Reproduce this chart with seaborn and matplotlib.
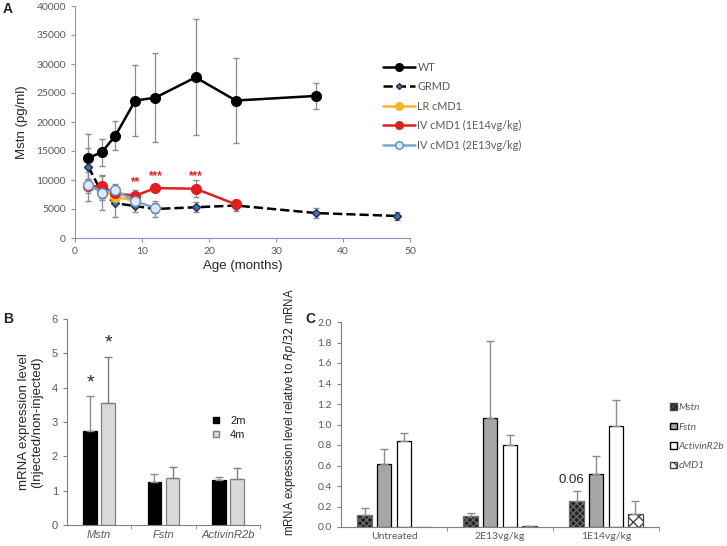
import matplotlib
matplotlib.use("Agg")
import matplotlib.pyplot as plt
from matplotlib.lines import Line2D
from matplotlib.patches import Patch
import numpy as np
import pandas as pd
import seaborn as sns

# ---- panel A: serum Mstn over age ----
wt_age = [2, 4, 6, 9, 12, 18, 24, 36]
wt_mstn = [13800, 14800, 17600, 23700, 24200, 27700, 23700, 24500]
wt_err = [4200, 2300, 2500, 6100, 7700, 10000, 7300, 2300]

grmd_age = [2, 4, 6, 9, 12, 18, 24, 36, 48]
grmd_mstn = [12300, 7800, 6000, 5500, 5000, 5300, 5600, 4300, 3800]
grmd_err = [3200, 2900, 2400, 1000, 1300, 900, 1000, 800, 700]

lr_age = [2, 4, 6, 9]
lr_mstn = [9000, 8300, 7100, 6400]
lr_err = [1200, 1400, 1100, 900]

iv14_age = [2, 4, 6, 9, 12, 18, 24]
iv14_mstn = [8900, 8900, 7700, 7300, 8600, 8500, 5800]
iv14_err = [2500, 2000, 1300, 1000, 500, 1500, 700]

iv13_age = [2, 4, 6, 9, 12]
iv13_mstn = [9200, 7800, 8300, 6300, 5200]
iv13_err = [1000, 1200, 1000, 1000, 900]

stars_age = [9, 12, 18]
stars_y = [9700, 10700, 10700]
stars_txt = ["**", "***", "***"]

# ---- panel B: injected / non-injected ----
b_genes = ["Mstn", "Fstn", "ActivinR2b"]
b_2m = [2.75, 1.25, 1.32]
b_2m_err = [1.00, 0.23, 0.08]
b_4m = [3.55, 1.37, 1.33]
b_4m_err = [1.35, 0.31, 0.32]

# ---- panel C: relative to Rpl32 ----
c_groups = ["Untreated", "2E13vg/kg", "1E14vg/kg"]
c_mstn = [0.12, 0.11, 0.25]
c_mstn_err = [0.07, 0.03, 0.10]
c_fstn = [0.61, 1.06, 0.52]
c_fstn_err = [0.15, 0.75, 0.17]
c_actr = [0.84, 0.80, 0.99]
c_actr_err = [0.08, 0.10, 0.25]
c_cmd1 = [0.0, 0.005, 0.13]
c_cmd1_err = [0.0, 0.005, 0.12]

sns.set_style("ticks")
plt.rcParams["font.family"] = ["Liberation Sans", "DejaVu Sans"]

fig = plt.figure(figsize=(7.27, 5.46), dpi=100)
W, H = 727, 546


def px_axes(left, top, right, bottom):
    return fig.add_axes([left / W, 1 - bottom / H, (right - left) / W, (bottom - top) / H])


tick_grey = "#595959"
err_grey = "#8c8c8c"

# ================= A =================
axA = px_axes(75, 6, 410, 238)
series = [
    (wt_age, wt_mstn, wt_err, "WT", dict(color="black", ls="-", marker="o", ms=7, mfc="black", mec="black")),
    (grmd_age, grmd_mstn, grmd_err, "GRMD", dict(color="black", ls="--", marker="D", ms=4.5, mfc="#4a6fb0", mec="#1f2f4f")),
    (lr_age, lr_mstn, lr_err, "LR cMD1", dict(color="#f0b623", ls="-", marker="o", ms=7, mfc="#f0b623", mec="#f0b623")),
    (iv14_age, iv14_mstn, iv14_err, "IV cMD1 (1E14vg/kg)", dict(color="#e0201f", ls="-", marker="o", ms=7, mfc="#e0201f", mec="#e0201f")),
    (iv13_age, iv13_mstn, iv13_err, "IV cMD1 (2E13vg/kg)", dict(color="#79a6d2", ls="-", marker="o", ms=7, mfc="#dfe9f5", mec="#5b8bc4")),
]
handles = []
for age, val, err, name, st in series:
    axA.errorbar(age, val, yerr=err, fmt="none", ecolor=err_grey, elinewidth=0.9, capsize=2.5, zorder=1)
for age, val, err, name, st in series:
    sns.lineplot(x=age, y=val, ax=axA, color=st["color"], linestyle=st["ls"], lw=1.8,
                 marker=st["marker"], markersize=st["ms"], markerfacecolor=st["mfc"],
                 markeredgecolor=st["mec"], markeredgewidth=1, zorder=3)
    handles.append(Line2D([], [], color=st["color"], ls=st["ls"], lw=1.8, marker=st["marker"],
                          ms=st["ms"] - 1.5, mfc=st["mfc"], mec=st["mec"], label=name))
for x, y, t in zip(stars_age, stars_y, stars_txt):
    axA.text(x, y, t, color="#e0201f", ha="center", va="center", fontsize=8.5, fontweight="bold")

axA.set_xlim(0, 50)
axA.set_ylim(0, 40000)
axA.set_xticks(range(0, 51, 10))
axA.set_yticks(range(0, 40001, 5000))
axA.set_xlabel("Age (months)", fontsize=9.5, labelpad=3)
axA.set_ylabel("Mstn (pg/ml)", fontsize=9.5, labelpad=6)
for s in ["top", "right"]:
    axA.spines[s].set_visible(False)
for s in ["left", "bottom"]:
    axA.spines[s].set_color("#7f97c7")
axA.tick_params(colors="#7f97c7", labelcolor=tick_grey, labelsize=7.5, length=3)
for lab in axA.get_xticklabels() + axA.get_yticklabels():
    lab.set_family(["Lato", "DejaVu Sans"])
leg = fig.legend(handles=handles, loc="upper left", bbox_to_anchor=(373 / W, 1 - 52 / H),
                 frameon=False, fontsize=7.8, handlelength=3.0, labelspacing=0.78, handletextpad=0.2)
for t in leg.get_texts():
    t.set_color(tick_grey)
    t.set_family(["Lato", "DejaVu Sans"])
fig.text(3 / W, 1 - 2 / H, "A", fontsize=10, fontweight="bold", va="top")

# ================= B =================
axB = px_axes(67, 319, 260, 525)
dfB = pd.DataFrame({
    "gene": b_genes * 2,
    "age": ["2m"] * 3 + ["4m"] * 3,
    "value": b_2m + b_4m,
})
sns.barplot(data=dfB, x="gene", y="value", hue="age", palette=["black", "#d9d9d9"],
            width=0.56, gap=0.25, errorbar=None, ax=axB, legend=False)
b_err = [b_2m_err, b_4m_err]
b_edges = ["black", "#7f7f7f"]
b_conts = list(axB.containers)
for i, cont in enumerate(b_conts):
    for j, (bar, e) in enumerate(zip(cont, b_err[i])):
        bar.set_edgecolor(b_edges[i])
        bar.set_linewidth(0.9)
        x = bar.get_x() + bar.get_width() / 2
        axB.errorbar(x, bar.get_height(), yerr=[[0], [e]], fmt="none",
                     ecolor=err_grey if i == 0 else "#7f7f7f", elinewidth=1, capsize=3)
        if b_genes[j] == "Mstn":
            axB.text(x, bar.get_height() + e + 0.15, "*", ha="center", va="bottom", fontsize=14)
axB.set_xlim(-0.5, 2.5)
axB.set_ylim(0, 6)
axB.set_yticks(range(0, 7))
axB.set_xlabel("")
axB.set_ylabel("mRNA expression level\n(Injected/non-injected)", fontsize=9.5, labelpad=6)
axB.set_xticks([0.5, 1.5, 2.5], minor=True)
axB.tick_params(axis="x", which="major", length=0)
axB.tick_params(axis="x", which="minor", length=3, color="#7f7f7f")
axB.tick_params(axis="y", length=3, color="#7f7f7f")
axB.tick_params(labelcolor=tick_grey, labelsize=8)
for lab in axB.get_xticklabels():
    lab.set_style("italic")
for s in ["top", "right"]:
    axB.spines[s].set_visible(False)
for s in ["left", "bottom"]:
    axB.spines[s].set_color("#7f7f7f")
hB = [Patch(facecolor="black", edgecolor="black", label="2m"),
      Patch(facecolor="#d9d9d9", edgecolor="#7f7f7f", label="4m")]
axB.legend(handles=hB, loc="upper left", bbox_to_anchor=(203 / W, 1 - 406 / H),
           bbox_transform=fig.transFigure, frameon=False, fontsize=8,
           handlelength=0.55, handleheight=0.55, handletextpad=1.0, labelspacing=0.35)
fig.text(3 / W, 1 - 312 / H, "B", fontsize=10, fontweight="bold", va="top")

# ================= C =================
axC = px_axes(341, 322, 659, 527)
c_names = ["Mstn", "Fstn", "ActivinR2b", "cMD1"]
c_vals = [c_mstn, c_fstn, c_actr, c_cmd1]
c_errs = [c_mstn_err, c_fstn_err, c_actr_err, c_cmd1_err]
dfC = pd.DataFrame({
    "group": c_groups * 4,
    "gene": [n for n in c_names for _ in c_groups],
    "value": [v for vals in c_vals for v in vals],
})
c_face = ["#1e1e1e", "#a6a6a6", "white", "white"]
c_hatch = ["xxxxx", None, None, "xxx"]
sns.barplot(data=dfC, x="group", y="value", hue="gene", palette=c_face,
            width=0.74, gap=0.26, errorbar=None, ax=axC, legend=False)
c_conts = list(axC.containers)
for i, cont in enumerate(c_conts):
    for bar, e in zip(cont, c_errs[i]):
        bar.set_facecolor(c_face[i])
        bar.set_edgecolor("black")
        bar.set_linewidth(0.9)
        if c_hatch[i]:
            bar.set_hatch(c_hatch[i])
            bar.set_edgecolor("#6a6a6a" if i == 0 else "#444444")
        if e > 0:
            x = bar.get_x() + bar.get_width() / 2
            axC.errorbar(x, bar.get_height(), yerr=[[0], [e]], fmt="none",
                         ecolor=err_grey, elinewidth=1, capsize=3)
mst_bar = c_conts[0][2]
axC.text(mst_bar.get_x() + mst_bar.get_width() / 2 - 0.05, 0.455, "0.06", ha="center",
         va="center", fontsize=9.5)
axC.set_xlim(-0.5, 2.5)
axC.set_ylim(0, 2.0)
yt = np.arange(0, 2.01, 0.2)
axC.set_yticks(yt)
axC.set_yticklabels([f"{v:.1f}" for v in yt])
axC.set_xlabel("")
axC.set_ylabel(r"mRNA expression level relative to $\it{Rpl32}$ mRNA", fontsize=8.3)
axC.yaxis.set_label_coords(-0.135, 0.56)
axC.set_xticks([0.5, 1.5, 2.5], minor=True)
axC.tick_params(axis="x", which="major", length=0)
axC.tick_params(axis="x", which="minor", length=3, color="#7f7f7f")
axC.tick_params(axis="y", length=3, color="#7f7f7f")
axC.tick_params(labelcolor=tick_grey, labelsize=7.5)
for lab in axC.get_xticklabels() + axC.get_yticklabels():
    lab.set_family(["Lato", "DejaVu Sans"])
for s in ["top", "right"]:
    axC.spines[s].set_visible(False)
for s in ["left", "bottom"]:
    axC.spines[s].set_color("#7f7f7f")
hC = [Patch(facecolor=c_face[i], edgecolor="#444444" if c_hatch[i] else "black",
            hatch=c_hatch[i], label=c_names[i]) for i in range(4)]
legC = fig.legend(handles=hC, loc="upper left", bbox_to_anchor=(661 / W, 1 - 394 / H),
                  frameon=False, fontsize=7.2, handlelength=0.65, handleheight=0.65,
                  handletextpad=0.2, labelspacing=1.05)
for t in legC.get_texts():
    t.set_style("italic")
    t.set_color(tick_grey)
    t.set_family(["Lato", "DejaVu Sans"])
fig.text(305 / W, 1 - 312 / H, "C", fontsize=10, fontweight="bold", va="top")

fig.savefig("out.png", dpi=100)
